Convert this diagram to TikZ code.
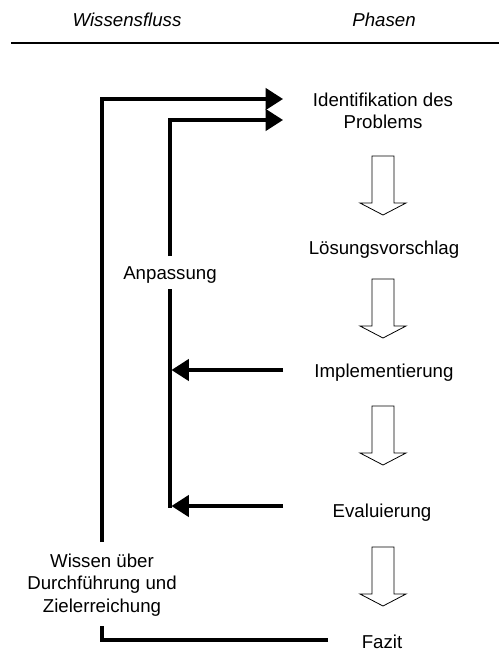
\documentclass[tikz,border=0pt]{standalone}
\usepackage{fontspec}
\setmainfont{Liberation Sans}
\usetikzlibrary{arrows.meta}
\begin{document}
\begin{tikzpicture}[x=0.75pt,y=-0.75pt,
  txt/.style={font=\fontsize{14}{16.8}\selectfont, inner sep=0pt, align=center},
  flow/.style={line width=2.4pt, line join=miter},
  flowarrow/.style={flow, -{Triangle[length=13pt,width=16pt]}},
  phasearrow/.pic={\draw[line width=0.6pt, line join=miter]
      (-11,0) -- (11,0) -- (11,47) -- (23,47) -- (0,59) -- (-23,47) -- (-11,47) -- cycle;}]
\useasboundingbox (0,0) rectangle (499,650);

% column headings and rule
\node[txt, anchor=base, font=\fontsize{14}{16.8}\selectfont\itshape] (hwissen) at (127,26) {Wissensfluss};
\node[txt, anchor=base, font=\fontsize{14}{16.8}\selectfont\itshape] (hphasen) at (384,26) {Phasen};
\coordinate (ruleL) at (11,43);
\coordinate (ruleR) at (499,43);
\draw[line width=1.5pt] (ruleL) -- (ruleR);

% phases
\node[txt, anchor=base] (p1) at (383,106) {Identifikation des};
\node[txt, anchor=base] (p1b) at (383,128) {Problems};
\node[txt, anchor=base] (p2) at (384,254) {Lösungsvorschlag};
\node[txt, anchor=base] (p3) at (384,377) {Implementierung};
\node[txt, anchor=base] (p4) at (382,517) {Evaluierung};
\node[txt, anchor=base] (p5) at (382,648) {Fazit};

% block arrows between phases
\pic at (383,156) {phasearrow};
\pic at (383,279) {phasearrow};
\pic at (383,406) {phasearrow};
\pic at (383,547) {phasearrow};

% knowledge-flow labels
\node[txt, anchor=base] (anp) at (170,279) {Anpassung};
\node[txt, anchor=base] (w1) at (102,567) {Wissen über};
\node[txt, anchor=base] (w2) at (102,589.5) {Durchführung und};
\node[txt, anchor=base] (w3) at (102,612) {Zielerreichung};

% corner and end points of the feedback loops
\coordinate (o1) at (102,99);
\coordinate (o2) at (102,542);
\coordinate (o3) at (102,626);
\coordinate (o4) at (102,640);
\coordinate (o5) at (328,640);
\coordinate (tipA) at (283,99);
\coordinate (i1) at (170,120);
\coordinate (i2) at (170,256);
\coordinate (i3) at (170,289);
\coordinate (i4) at (170,507.5);
\coordinate (tipB) at (283,120);
\coordinate (s1) at (283,370);
\coordinate (e1) at (171.5,370);
\coordinate (s2) at (283,506);
\coordinate (e2) at (171.5,506);

% outer loop: knowledge about execution and goal attainment
\draw[flow] (o5) -- (o4) -- (o3);
\draw[flowarrow] (o2) -- (o1) -- (tipA);

% inner loop: adaptation
\draw[flowarrow] (i2) -- (i1) -- (tipB);
\draw[flow] (i3) -- (i4);
\draw[flowarrow] (s1) -- (e1);
\draw[flowarrow] (s2) -- (e2);
\end{tikzpicture}
\end{document}
